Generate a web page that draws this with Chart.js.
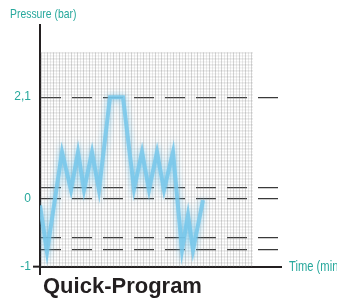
<!DOCTYPE html>
<html>
<head>
<meta charset="utf-8">
<script src="https://cdn.jsdelivr.net/npm/chart.js@4"></script>
<style>
  body { margin: 0; background: #fff; overflow: hidden; }
  #wrap { position: relative; width: 337px; height: 302px; overflow: hidden; }
  .lbl { position: absolute; white-space: nowrap; color: #27a89c; font-family: "Liberation Sans", sans-serif; font-size: 13px; transform: scaleX(0.8); transform-origin: left center; }
  #ytitle { left: 10px; top: 6px; }
  #xtitle { left: 289px; top: 258px; font-size: 14px; }
  #name { position: absolute; left: 43px; top: 273px; font-family: "Liberation Sans", sans-serif; font-weight: bold; font-size: 22px; color: #231f20; white-space: nowrap; }
</style>
</head>
<body>
<div id="wrap">
  <canvas id="myChart" width="337" height="302"></canvas>
  <div class="lbl" id="ytitle">Pressure (bar)</div>
  <div class="lbl" id="xtitle">Time (min)</div>
  <div id="name">Quick-Program</div>
</div>
<script>
// pressure curve (time in arbitrary units, pressure in bar)
const timeValues = [0, 7, 22, 31, 38, 44, 52, 59, 70, 83, 94, 102, 109, 117, 124, 133, 142, 148, 153, 163];
const pressureValues = [-0.15, -1.12, 0.96, 0.17, 0.96, 0.17, 0.96, 0.17, 2.1, 2.1, 0.19, 0.96, 0.17, 0.96, 0.17, 0.96, -1.08, -0.35, -1.08, -0.04];

// y axis ticks: labelled ones and the extra dashed levels
const yTickValues = [-1.43, 0, 2.1];
const yTickLabels = ['-1', '0', '2,1'];
const dashLevels = [-1.06, -0.81, 0.21];

const xMin = 0, xMax = 241, gridEnd = 213;
const yMin = -1.43, yMax = 3.6, gridTop = 3.03;

const teal = '#27a89c';
const ink = '#231f20';

// fine millimetre-paper mesh behind the curve
const meshPlugin = {
  id: 'mesh',
  beforeDatasetsDraw: (chart) => {
    const ctx = chart.ctx;
    const x0 = chart.scales.x.getPixelForValue(xMin);
    const x1 = chart.scales.x.getPixelForValue(gridEnd);
    const y0 = chart.scales.y.getPixelForValue(gridTop);
    const y1 = chart.scales.y.getPixelForValue(yMin);
    ctx.save();
    ctx.lineWidth = 1;
    let i = 0;
    for (let x = x0 + 1.5; x < x1; x += 3) {
      ctx.strokeStyle = i % 2 ? 'rgba(120,120,120,0.16)' : 'rgba(120,120,120,0.3)';
      ctx.beginPath(); ctx.moveTo(x, y0); ctx.lineTo(x, y1); ctx.stroke();
      i++;
    }
    i = 0;
    for (let y = y0 + 0.5; y < y1; y += 3) {
      ctx.strokeStyle = i % 2 ? 'rgba(120,120,120,0.14)' : 'rgba(120,120,120,0.26)';
      ctx.beginPath(); ctx.moveTo(x0, y); ctx.lineTo(x1, y); ctx.stroke();
      i++;
    }
    ctx.restore();
  }
};

// soft glow on the line
const glowPlugin = {
  id: 'glow',
  beforeDatasetDraw: (chart) => {
    chart.ctx.save();
    chart.ctx.shadowColor = 'rgba(100,190,230,0.9)';
    chart.ctx.shadowBlur = 6;
  },
  afterDatasetDraw: (chart) => {
    chart.ctx.restore();
  }
};

const data = timeValues.map((t, i) => ({ x: t, y: pressureValues[i] }));

const config = {
  type: 'line',
  data: {
    datasets: [{
      data: data,
      borderColor: 'rgba(120,200,235,0.85)',
      borderWidth: 4,
      pointRadius: 0,
      tension: 0,
      borderJoinStyle: 'miter'
    }]
  },
  options: {
    responsive: false,
    animation: false,
    layout: { padding: { left: 0, top: 25, right: 56, bottom: 27 } },
    plugins: { legend: { display: false }, tooltip: { enabled: false } },
    scales: {
      x: {
        type: 'linear',
        min: xMin,
        max: xMax,
        afterBuildTicks: (scale) => { scale.ticks = [{ value: xMin }]; },
        afterFit: (scale) => { scale.height = 8; },
        ticks: { display: false },
        grid: {
          drawOnChartArea: false,
          tickLength: 8,
          color: ink,
          lineWidth: 2
        },
        border: { display: true, color: ink, width: 2 }
      },
      y: {
        min: yMin,
        max: yMax,
        afterBuildTicks: (scale) => {
          scale.ticks = yTickValues.concat(dashLevels).sort((a, b) => a - b).map(v => ({ value: v }));
        },
        afterFit: (scale) => { scale.width = 40; },
        ticks: {
          padding: 2,
          color: teal,
          font: { family: '"Liberation Sans", sans-serif', size: 12 },
          callback: (value) => {
            const k = yTickValues.indexOf(value);
            return k >= 0 ? yTickLabels[k] : '';
          }
        },
        grid: {
          color: (c) => c.tick && c.tick.value === yMin ? 'transparent' : '#3a3a3a',
          lineWidth: 1.3,
          tickLength: 7,
          tickColor: (c) => c.tick && c.tick.value === yMin ? ink : 'transparent',
          tickWidth: 2
        },
        border: { display: true, color: ink, width: 2, dash: [20, 11] }
      }
    }
  },
  plugins: [meshPlugin, glowPlugin]
};

const chart = new Chart(document.getElementById('myChart'), config);
</script>
</body>
</html>
